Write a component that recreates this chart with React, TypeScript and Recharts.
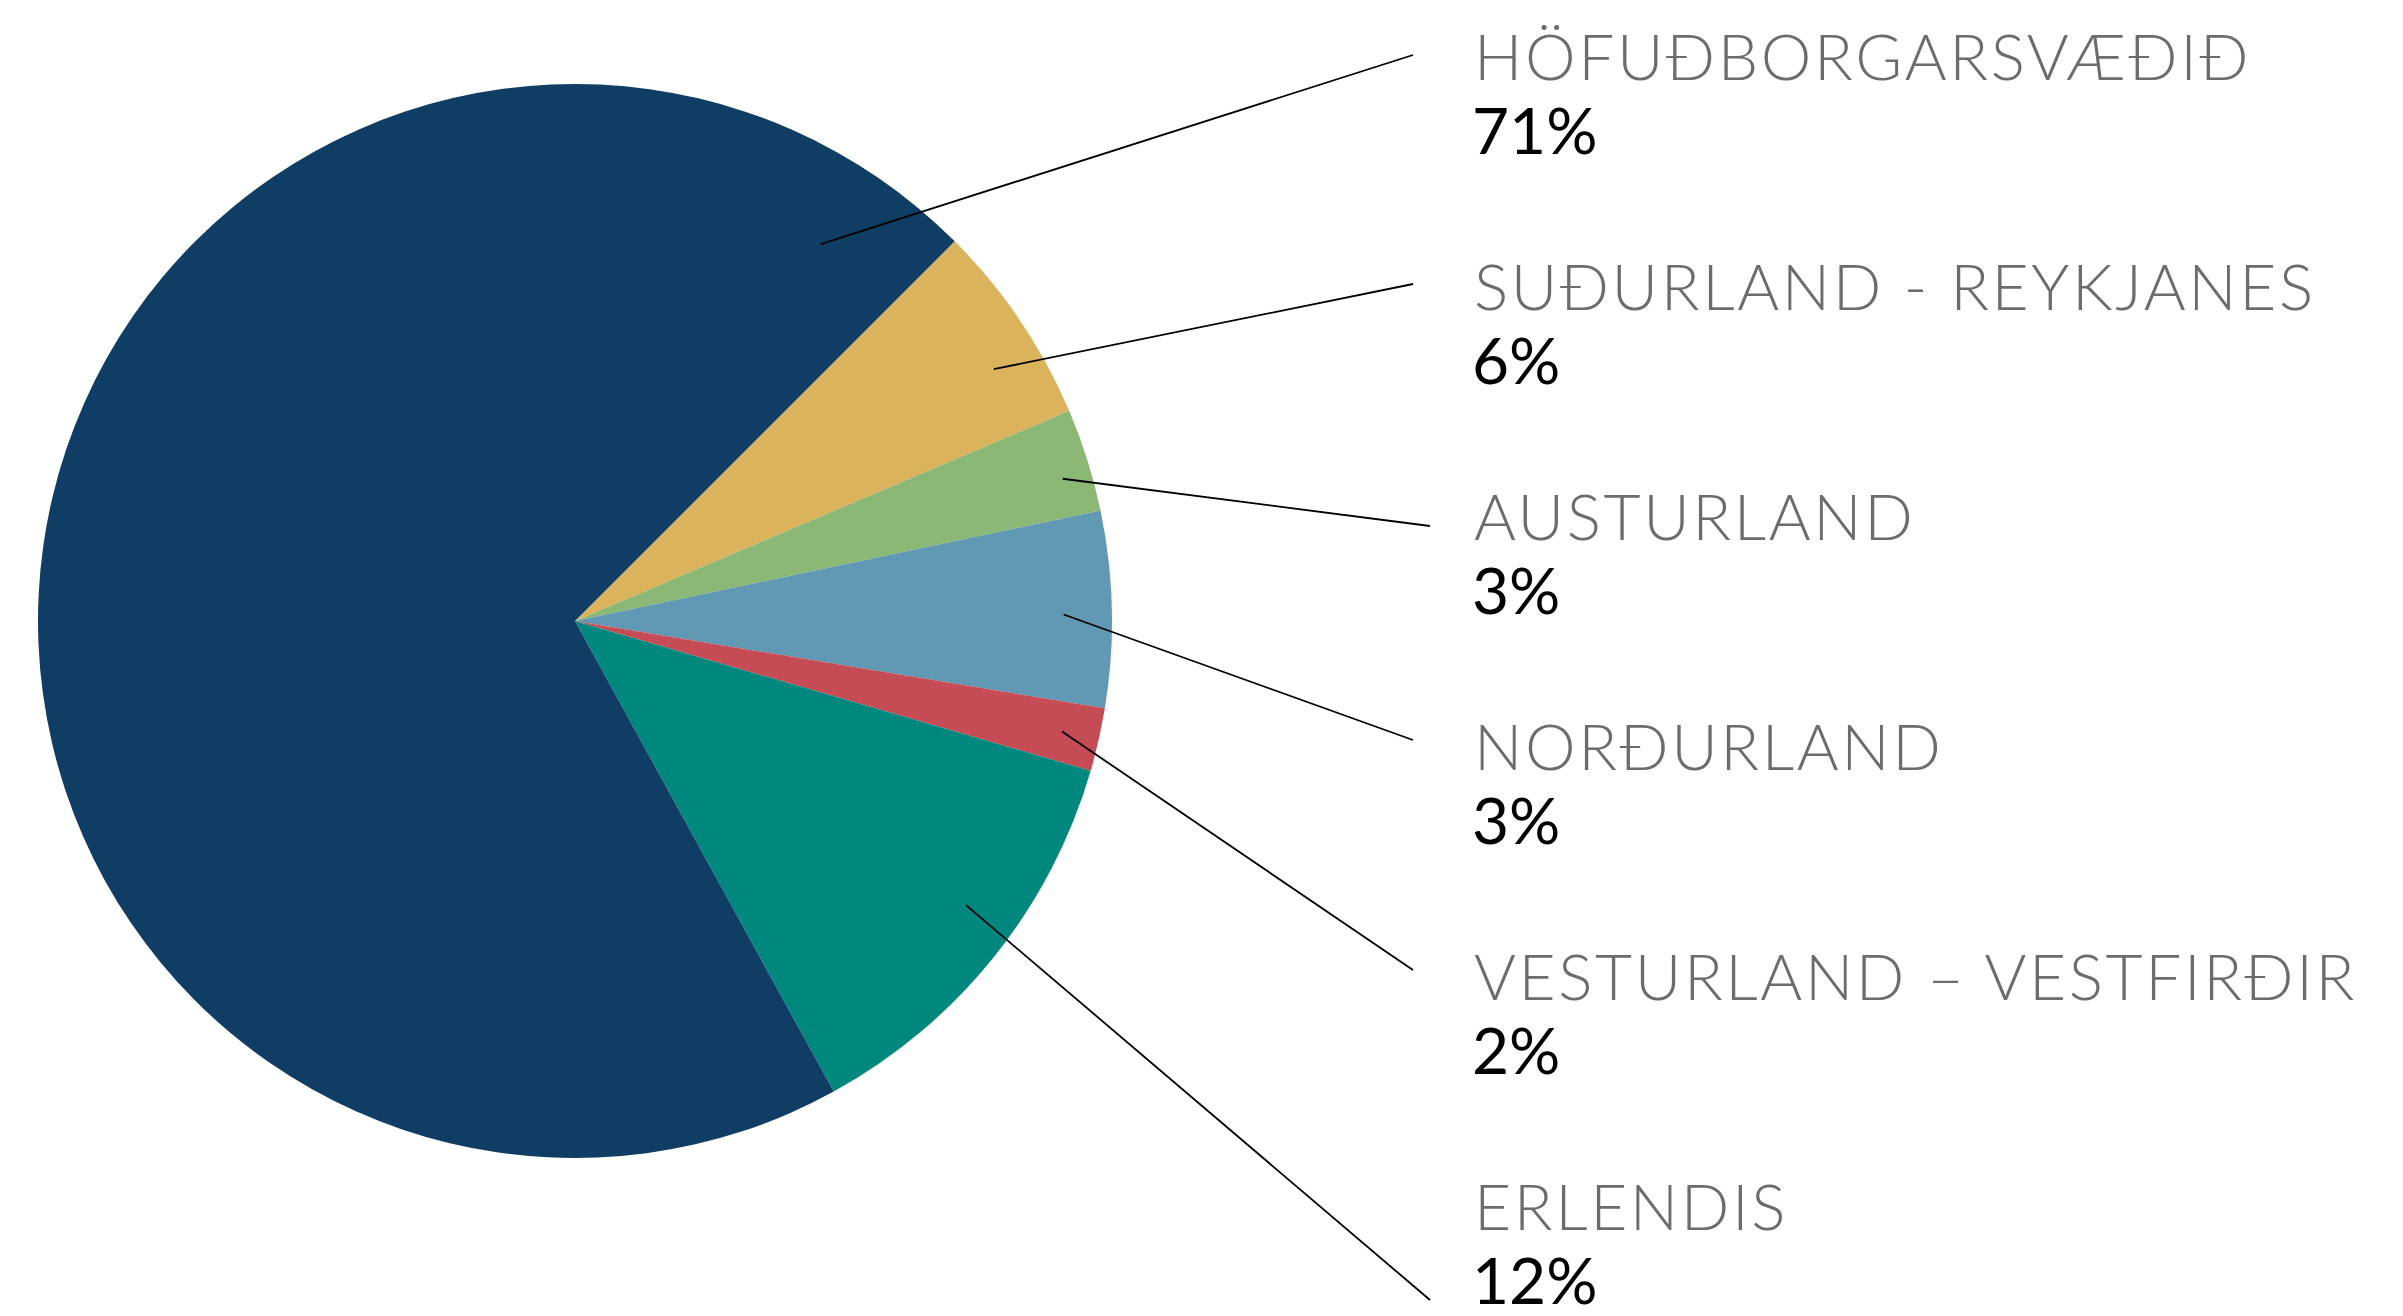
import { Cell, Pie, PieChart } from "recharts";

// Slices in clockwise order, starting at the gold slice (upper right)
const regions = [
  "SUÐURLAND - REYKJANES",
  "AUSTURLAND",
  "NORÐURLAND",
  "VESTURLAND – VESTFIRÐIR",
  "ERLENDIS",
  "HÖFUÐBORGARSVÆÐIÐ",
];
const shares = [6.1, 3.1, 5.9, 1.9, 12.5, 70.5]; // slice sizes as drawn
const shareLabels = ["6%", "3%", "3%", "2%", "12%", "71%"]; // printed percentages
const colors = ["#DCB35D", "#8CB875", "#6198B4", "#C54B54", "#00887E", "#103D64"];

// order of the label blocks down the right side (index into the arrays above)
const labelOrder = [5, 0, 1, 2, 3, 4];

const data = regions.map((name, i) => ({ name, value: shares[i], label: shareLabels[i] }));

const W = 2403;
const H = 1316;
const CX = 575;
const CY = 621;
const R = 537;
const TEXT_X = 1474;
const FIRST_BASE = 80; // baseline of the first title
const STEP = 230;
// leader line: angle offset from slice middle, radius ratio, end point
const leader = [
  { dA: -3, k: 0.91, ex: 1413, ey: 284 },
  { dA: -1.2, k: 0.946, ex: 1430, ey: 526 },
  { dA: -0.5, k: 0.91, ex: 1413, ey: 740 },
  { dA: 0, k: 0.93, ex: 1413, ey: 970 },
  { dA: 2.7, k: 0.9, ex: 1430, ey: 1300 },
  { dA: -115, k: 0.838, ex: 1413, ey: 55 },
];
const RADIAN = Math.PI / 180;

const renderLabel = (props: any) => {
  const { cx, cy, midAngle, outerRadius, index } = props;
  const l = leader[index];
  const a = (midAngle + l.dA) * RADIAN;
  const sx = cx + outerRadius * l.k * Math.cos(a);
  const sy = cy - outerRadius * l.k * Math.sin(a);
  const row = labelOrder.indexOf(index);
  const base = FIRST_BASE + row * STEP;
  return (
    <g key={`lbl-${index}`}>
      <line x1={sx} y1={sy} x2={l.ex} y2={l.ey} stroke="#000" strokeWidth={1.8} />
      <text
        x={TEXT_X}
        y={base}
        fill="#6c6c6c"
        fontSize={64}
        fontWeight={300}
        letterSpacing={2.6}
        fontFamily="Lato, 'Open Sans', sans-serif"
      >
        {regions[index]}
      </text>
      <text
        x={TEXT_X - 2}
        y={base + 74}
        fill="#000"
        fontSize={64}
        fontWeight={400}
        fontFamily="Lato, 'Open Sans', sans-serif"
      >
        {shareLabels[index]}
      </text>
    </g>
  );
};

export default function RegionPieChart() {
  return (
    <div style={{ position: "absolute", left: 0, top: 0, width: W, height: H, background: "#fff" }}>
      <PieChart width={W} height={H} margin={{ top: 0, right: 0, bottom: 0, left: 0 }}>
        <Pie
          data={data}
          dataKey="value"
          nameKey="name"
          cx={CX}
          cy={CY}
          outerRadius={R}
          startAngle={45}
          endAngle={-315}
          stroke="none"
          label={renderLabel}
          labelLine={false}
          isAnimationActive={false}
        >
          {data.map((d, i) => (
            <Cell key={d.name} fill={colors[i]} />
          ))}
        </Pie>
      </PieChart>
    </div>
  );
}
